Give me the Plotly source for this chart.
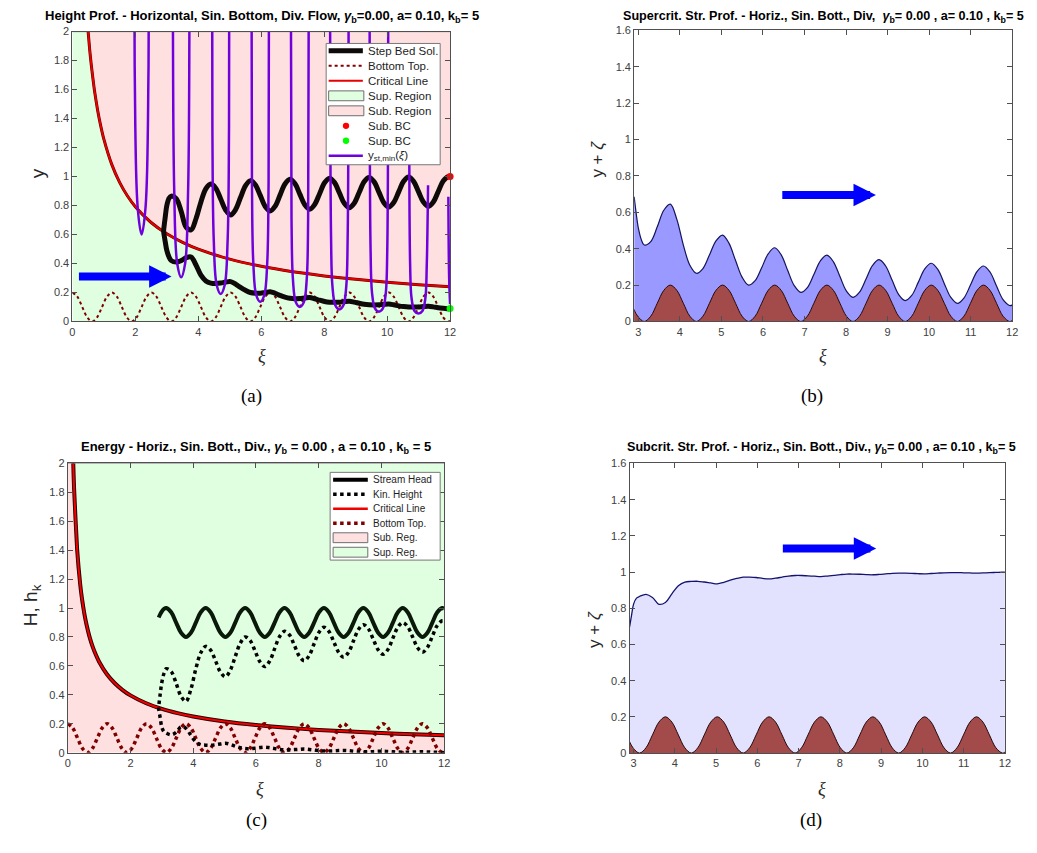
import plotly.graph_objects as go

# ---------------- data ----------------
# bottom topography zeta(xi), sampled every 1/8 of a bed period
xi_bot = [0.000, 0.157, 0.314, 0.471, 0.628, 0.785, 0.942, 1.100, 1.257, 1.414,
          1.571, 1.728, 1.885, 2.042, 2.199, 2.356, 2.513, 2.670, 2.827, 2.985,
          3.142, 3.299, 3.456, 3.613, 3.770, 3.927, 4.084, 4.241, 4.398, 4.555,
          4.712, 4.869, 5.027, 5.184, 5.341, 5.498, 5.655, 5.812, 5.969, 6.126,
          6.283, 6.440, 6.597, 6.754, 6.912, 7.069, 7.226, 7.383, 7.540, 7.697,
          7.854, 8.011, 8.168, 8.325, 8.482, 8.639, 8.796, 8.954, 9.111, 9.268,
          9.425, 9.582, 9.739, 9.896, 10.053, 10.210, 10.367, 10.524, 10.681, 10.838,
          10.996, 11.153, 11.310, 11.467, 11.624, 11.781, 11.938, 12.000]
zeta_bot = [0.2, 0.171, 0.1, 0.029, 0.0, 0.029, 0.1, 0.171,
            0.2, 0.171, 0.1, 0.029, 0.0, 0.029, 0.1, 0.171,
            0.2, 0.171, 0.1, 0.029, 0.0, 0.029, 0.1, 0.171,
            0.2, 0.171, 0.1, 0.029, 0.0, 0.029, 0.1, 0.171,
            0.2, 0.171, 0.1, 0.029, 0.0, 0.029, 0.1, 0.171,
            0.2, 0.171, 0.1, 0.029, 0.0, 0.029, 0.1, 0.171,
            0.2, 0.171, 0.1, 0.029, 0.0, 0.029, 0.1, 0.171,
            0.2, 0.171, 0.1, 0.029, 0.0, 0.029, 0.1, 0.171,
            0.2, 0.171, 0.1, 0.029, 0.0, 0.029, 0.1, 0.171,
            0.2, 0.171, 0.1, 0.029, 0.0, 0.005]

# profile grid (starts at the turning point xi ~ 2.9)
xi_p = [2.90, 2.95, 3.00, 3.07] + xi_bot[20:]
zeta_p = [0.065, 0.042, 0.024, 0.006] + zeta_bot[20:]

# supercritical depth y
y_sup = [0.62, 0.55, 0.49, 0.445,
         0.42, 0.41, 0.42, 0.44, 0.445, 0.39, 0.32, 0.28, 0.265, 0.262,
         0.265, 0.272, 0.275, 0.258, 0.235, 0.215, 0.20, 0.195, 0.195, 0.20,
         0.205, 0.195, 0.18, 0.168, 0.16, 0.157, 0.158, 0.162, 0.165, 0.157,
         0.147, 0.138, 0.133, 0.132, 0.133, 0.137, 0.14, 0.134, 0.126, 0.119,
         0.115, 0.114, 0.115, 0.118, 0.12, 0.115, 0.108, 0.103, 0.10, 0.10,
         0.10, 0.103, 0.105, 0.101, 0.095, 0.091, 0.088, 0.085]
# subcritical depth y
y_sub = [0.63, 0.72, 0.80, 0.85,
         0.865, 0.848, 0.76, 0.651, 0.632, 0.709, 0.825, 0.916, 0.948, 0.92,
         0.845, 0.769, 0.735, 0.772, 0.855, 0.936, 0.972, 0.943, 0.87, 0.794,
         0.762, 0.795, 0.872, 0.949, 0.981, 0.952, 0.879, 0.806, 0.775, 0.807,
         0.882, 0.957, 0.989, 0.96, 0.888, 0.815, 0.785, 0.816, 0.89, 0.964,
         0.994, 0.965, 0.893, 0.82, 0.79, 0.821, 0.894, 0.967, 0.997, 0.968,
         0.896, 0.824, 0.794, 0.824, 0.897, 0.969, 0.999, 0.995]
H_total = 1.0   # total head level

# critical depth y_c(xi)
xi_c = [0.01, 0.02, 0.05, 0.1, 0.15, 0.175, 0.2, 0.3, 0.4, 0.45, 0.5, 0.55, 0.6, 0.7,
        0.8, 0.9, 1.0, 1.25, 1.5, 1.75, 2.0, 2.5, 3.0, 3.5, 4.0, 5.0, 6.0, 7.0,
        8.0, 9.0, 10.0, 11.0, 12.0]
y_c = [27.1, 17.1, 9.27, 5.84, 4.456, 4.02, 3.678, 2.807, 2.317, 2.142, 2.0, 1.874, 1.77, 1.595,
       1.46, 1.35, 1.258, 1.084, 0.96, 0.866, 0.792, 0.683, 0.605, 0.546, 0.499, 0.430, 0.381, 0.344,
       0.3145, 0.291, 0.271, 0.254, 0.240]

# y_st,min branches (one list per branch)
u_x = [
    [1.904, 1.935, 1.979, 2.073, 2.199, 2.325, 2.419, 2.463, 2.494],
    [3.161, 3.192, 3.236, 3.330, 3.456, 3.582, 3.676, 3.720, 3.751],
    [4.417, 4.448, 4.492, 4.586, 4.712, 4.838, 4.932, 4.976, 5.007],
    [5.674, 5.705, 5.749, 5.843, 5.969, 6.095, 6.189, 6.233, 6.264],
    [6.931, 6.962, 7.006, 7.100, 7.226, 7.352, 7.446, 7.490, 7.521],
    [8.187, 8.218, 8.262, 8.356, 8.482, 8.608, 8.702, 8.746, 8.777],
    [9.444, 9.475, 9.519, 9.613, 9.739, 9.865, 9.959, 10.003, 10.034],
    [10.700, 10.731, 10.775, 10.869, 10.995, 11.121, 11.215, 11.259, 11.300],
    [11.945, 11.97, 12.0],
]
u_y = [
    [18.7, 4.24, 1.76, 0.79, 0.60, 0.79, 1.76, 4.24, 18.7],
    [9.5, 2.16, 0.90, 0.40, 0.305, 0.40, 0.90, 2.16, 9.5],
    [5.93, 1.34, 0.56, 0.25, 0.19, 0.25, 0.56, 1.34, 5.93],
    [4.24, 0.96, 0.40, 0.18, 0.136, 0.18, 0.40, 0.96, 4.24],
    [3.12, 0.707, 0.294, 0.132, 0.10, 0.132, 0.294, 0.707, 3.12],
    [2.59, 0.587, 0.244, 0.11, 0.083, 0.11, 0.244, 0.587, 2.59],
    [2.12, 0.481, 0.20, 0.09, 0.068, 0.09, 0.20, 0.481, 2.12],
    [1.72, 0.389, 0.162, 0.073, 0.055, 0.073, 0.162, 0.389, 0.94],
    [0.86, 0.30, 0.12],
]
bc_sub = (12.0, 1.0)
bc_sup = (12.0, 0.09)

# ---------------- derived series ----------------
surf_sup = [y + z for y, z in zip(y_sup, zeta_p)]
surf_sub = [y + z for y, z in zip(y_sub, zeta_p)]
H = [H_total - z for z in zeta_p]
hk_sup = [h - y for h, y in zip(H, y_sup)]
hk_sub = [h - y for h, y in zip(H, y_sub)]
h_c = [v / 2 for v in y_c]
step_x = xi_p[::-1] + xi_p
step_y = y_sub[::-1] + y_sup
hk_y = hk_sub[::-1] + hk_sup
pur_x, pur_y = [], []
for xs, ys in zip(u_x, u_y):
    pur_x += xs + [None]
    pur_y += ys + [None]

# ---------------- styling ----------------
FONT = "Liberation Sans, Arial, sans-serif"
SERIF = "Liberation Serif, DejaVu Serif, serif"
PINK = "rgb(255,224,224)"
GREEN = "rgb(224,255,224)"
DARKRED = "rgb(128,0,0)"
PURPLE = "rgb(112,0,220)"
BROWN = "rgb(163,74,74)"
RED = "rgb(230,0,0)"
GRAYEDGE = "rgb(110,110,110)"

fig = go.Figure()

# ----- panel (a) -----
fig.add_trace(go.Scatter(x=xi_c, y=y_c, mode="lines", fill="tozeroy", fillcolor=GREEN,
                         line=dict(color=GRAYEDGE, width=1), name="Sup. Region", xaxis="x", yaxis="y"))
fig.add_trace(go.Scatter(x=[0, 12], y=[2, 2], mode="lines", fill="tonexty", fillcolor=PINK,
                         line=dict(color=GRAYEDGE, width=1), name="Sub. Region", xaxis="x", yaxis="y"))
fig.add_trace(go.Scatter(x=xi_bot, y=zeta_bot, mode="lines", line=dict(color=DARKRED, width=2, dash="dot", shape="spline"),
                         name="Bottom Top.", xaxis="x", yaxis="y"))
fig.add_trace(go.Scatter(x=xi_c, y=y_c, mode="lines", line=dict(color="rgb(90,0,0)", width=3, shape="spline", smoothing=0.5),
                         hoverinfo="skip", xaxis="x", yaxis="y"))
fig.add_trace(go.Scatter(x=xi_c, y=y_c, mode="lines", line=dict(color=RED, width=2, shape="spline", smoothing=0.5),
                         name="Critical Line", xaxis="x", yaxis="y"))
fig.add_trace(go.Scatter(x=step_x, y=step_y, mode="lines", line=dict(color="rgb(15,10,10)", width=5, shape="spline"),
                         name="Step Bed Sol.", xaxis="x", yaxis="y"))
fig.add_trace(go.Scatter(x=pur_x, y=pur_y, mode="lines", line=dict(color=PURPLE, width=2.5, shape="spline"),
                         connectgaps=False, name="y_st,min(ξ)", xaxis="x", yaxis="y"))
fig.add_trace(go.Scatter(x=[bc_sub[0]], y=[bc_sub[1]], mode="markers", marker=dict(color="red", size=7),
                         cliponaxis=False, name="Sub. BC", xaxis="x", yaxis="y"))
fig.add_trace(go.Scatter(x=[bc_sup[0]], y=[bc_sup[1]], mode="markers", marker=dict(color="rgb(0,255,0)", size=7),
                         cliponaxis=False, name="Sup. BC", xaxis="x", yaxis="y"))

# ----- panel (b) -----
fig.add_trace(go.Scatter(x=xi_p, y=surf_sup, mode="lines", fill="tozeroy", fillcolor="rgb(153,153,255)",
                         line=dict(color="rgb(20,20,90)", width=1.2, shape="spline"), xaxis="x2", yaxis="y2"))
fig.add_trace(go.Scatter(x=xi_bot, y=zeta_bot, mode="lines", fill="tozeroy", fillcolor=BROWN,
                         line=dict(color="rgb(40,10,10)", width=1, shape="spline"), xaxis="x2", yaxis="y2"))

# ----- panel (c) -----
fig.add_trace(go.Scatter(x=xi_c, y=h_c, mode="lines", fill="tozeroy", fillcolor=PINK,
                         line=dict(color=GRAYEDGE, width=1), name="Sub. Reg.", xaxis="x3", yaxis="y3"))
fig.add_trace(go.Scatter(x=[0, 12], y=[2, 2], mode="lines", fill="tonexty", fillcolor=GREEN,
                         line=dict(color=GRAYEDGE, width=1), name="Sup. Reg.", xaxis="x3", yaxis="y3"))
fig.add_trace(go.Scatter(x=xi_c, y=h_c, mode="lines", line=dict(color="rgb(40,0,0)", width=4, shape="spline", smoothing=0.5),
                         hoverinfo="skip", xaxis="x3", yaxis="y3"))
fig.add_trace(go.Scatter(x=xi_c, y=h_c, mode="lines", line=dict(color="rgb(240,0,0)", width=2, shape="spline", smoothing=0.5),
                         name="Critical Line", xaxis="x3", yaxis="y3"))
fig.add_trace(go.Scatter(x=xi_bot, y=zeta_bot, mode="lines", line=dict(color=DARKRED, width=3.5, dash="dot", shape="spline"),
                         name="Bottom Top.", xaxis="x3", yaxis="y3"))
fig.add_trace(go.Scatter(x=step_x, y=hk_y, mode="lines", line=dict(color="black", width=3.5, dash="dot", shape="spline"),
                         name="Kin. Height", xaxis="x3", yaxis="y3"))
fig.add_trace(go.Scatter(x=xi_p, y=H, mode="lines", line=dict(color="rgb(10,25,10)", width=4, shape="spline"),
                         name="Stream Head", xaxis="x3", yaxis="y3"))

# ----- panel (d) -----
fig.add_trace(go.Scatter(x=xi_p, y=surf_sub, mode="lines", fill="tozeroy", fillcolor="rgb(226,226,255)",
                         line=dict(color="rgb(20,20,110)", width=1.3, shape="spline"), xaxis="x4", yaxis="y4"))
fig.add_trace(go.Scatter(x=xi_bot, y=zeta_bot, mode="lines", fill="tozeroy", fillcolor=BROWN,
                         line=dict(color="rgb(40,10,10)", width=1, shape="spline"), xaxis="x4", yaxis="y4"))

W, Hh = 1037, 853
def px(x):
    return x / W
def py(y):
    return 1 - y / Hh

axis_common = dict(showline=True, linecolor="rgb(80,80,80)", linewidth=1, mirror="ticks",
                   ticks="inside", ticklen=5, tickcolor="rgb(80,80,80)", showgrid=False,
                   zeroline=False, tickfont=dict(family=FONT, size=11, color="rgb(64,64,64)"))

fig.update_layout(
    width=W, height=Hh, margin=dict(l=0, r=0, t=0, b=0),
    paper_bgcolor="white", plot_bgcolor="white", showlegend=False,
    xaxis=dict(domain=[px(70), px(451)], range=[0, 12], dtick=2, anchor="y", **axis_common),
    yaxis=dict(domain=[py(320), py(26)], range=[0, 2], dtick=0.2, anchor="x", **axis_common),
    xaxis2=dict(domain=[px(636.7), px(1018)], range=[2.9, 12], dtick=1, anchor="y2", **axis_common),
    yaxis2=dict(domain=[py(320), py(24.6)], range=[0, 1.6], dtick=0.2, anchor="x2", **axis_common),
    xaxis3=dict(domain=[px(65.3), px(445)], range=[0, 12], dtick=2, anchor="y3", **axis_common),
    yaxis3=dict(domain=[py(757.3), py(464)], range=[0, 2], dtick=0.2, anchor="x3", **axis_common),
    xaxis4=dict(domain=[px(632), px(1010.7)], range=[2.9, 12], dtick=1, anchor="y4", **axis_common),
    yaxis4=dict(domain=[py(757.7), py(464)], range=[0, 1.6], dtick=0.2, anchor="x4", **axis_common),
)

ann = []
shapes = []
def text(x, y, t, size, family=FONT, color="black", angle=0, xanchor="center"):
    ann.append(dict(x=px(x), y=py(y), xref="paper", yref="paper", text=t, showarrow=False,
                    xanchor=xanchor, yanchor="middle", textangle=angle,
                    font=dict(family=family, size=size, color=color)))

text(261, 11, "<b>Height Prof. - Horizontal, Sin. Bottom, Div. Flow, <i>γ</i><sub>b</sub>=0.00, a= 0.10, k<sub>b</sub>= 5</b>", 13)
text(828, 11, "<b>Supercrit. Str. Prof. - Horiz., Sin. Bott., Div,  <i>γ</i><sub>b</sub>= 0.00 , a= 0.10 , k<sub>b</sub>= 5</b>", 12.6)
text(255, 448, "<b>Energy - Horiz., Sin. Bott., Div., <i>γ</i><sub>b</sub> = 0.00 , a = 0.10 , k<sub>b</sub> = 5</b>", 13)
text(826, 448, "<b>Subcrit. Str. Prof. - Horiz., Sin. Bott., Div., <i>γ</i><sub>b</sub>= 0.00 , a= 0.10 , k<sub>b</sub>= 5</b>", 12.6)

text(261, 355, "<i>ξ</i>", 18, SERIF, "rgb(40,40,40)")
text(827, 355, "<i>ξ</i>", 18, SERIF, "rgb(40,40,40)")
text(259, 794, "<i>ξ</i>", 18, SERIF, "rgb(40,40,40)")
text(826, 794, "<i>ξ</i>", 18, SERIF, "rgb(40,40,40)")

text(251, 396, "(a)", 19, SERIF)
text(816, 396, "(b)", 19, SERIF)
text(256, 826, "(c)", 19, SERIF)
text(815, 826, "(d)", 19, SERIF)

text(35, 170, "y", 19, FONT, "rgb(40,40,40)", -90)
text(600, 155, "y + <i>ζ</i>", 17, FONT, "rgb(40,40,40)", -90)
text(30, 608, "H, h<sub>k</sub>", 19, FONT, "rgb(40,40,40)", -90)
text(596, 632, "y + <i>ζ</i>", 17, FONT, "rgb(40,40,40)", -90)

# flow-direction arrows
arrow_a = dict(x0=0.16, x1=3.15, y=0.31)
arrow_b = dict(x0=6.43, x1=8.72, y=0.695)
arrow_d = dict(x0=6.58, x1=8.88, y=1.13)
for arr, xr, yr in [(arrow_a, "x", "y"), (arrow_b, "x2", "y2"), (arrow_d, "x4", "y4")]:
    ann.append(dict(x=arr["x1"], y=arr["y"], ax=arr["x0"], ay=arr["y"], xref=xr, yref=yr,
                    axref=xr, ayref=yr, text="", showarrow=True, arrowhead=2, arrowsize=0.56,
                    arrowwidth=8, arrowcolor="rgb(0,0,255)", standoff=0))

# ---------------- legends (drawn as boxes with samples and text) ----------------
def legend_box(x0, x1, y0, y1):
    shapes.append(dict(type="rect", xref="paper", yref="paper", x0=px(x0), x1=px(x1),
                       y0=py(y1), y1=py(y0), fillcolor="white", line=dict(color="rgb(120,120,120)", width=1)))

def leg_line(xa, xb, y, color, width, dash="solid"):
    shapes.append(dict(type="line", xref="paper", yref="paper", x0=px(xa), x1=px(xb), y0=py(y), y1=py(y),
                       line=dict(color=color, width=width, dash=dash)))

def leg_patch(xa, xb, y, h, color):
    shapes.append(dict(type="rect", xref="paper", yref="paper", x0=px(xa), x1=px(xb), y0=py(y + h / 2),
                       y1=py(y - h / 2), fillcolor=color, line=dict(color=GRAYEDGE, width=1)))

def leg_dot(xc, y, r, color):
    shapes.append(dict(type="circle", xref="paper", yref="paper", x0=px(xc - r), x1=px(xc + r),
                       y0=py(y + r), y1=py(y - r), fillcolor=color, line=dict(color=color, width=0)))

# legend of panel (a)
legend_a = [("Step Bed Sol.", "line", "rgb(15,10,10)", 5, "solid"),
            ("Bottom Top.", "line", DARKRED, 2, "dot"),
            ("Critical Line", "line", RED, 2, "solid"),
            ("Sup. Region", "patch", GREEN, 0, ""),
            ("Sub. Region", "patch", PINK, 0, ""),
            ("Sub. BC", "dot", "red", 0, ""),
            ("Sup. BC", "dot", "rgb(0,255,0)", 0, ""),
            ("y<sub>st,min</sub>(<i>ξ</i>)", "line", PURPLE, 2.5, "solid")]
legend_box(326, 441, 38, 161)
for i, (lab, kind, col, wd, ds) in enumerate(legend_a):
    yy = 45.5 + i * 15.2
    if kind == "line":
        leg_line(328.5, 363, yy, col, wd, ds)
    elif kind == "patch":
        leg_patch(328.5, 364, yy, 10, col)
    else:
        leg_dot(346, yy, 3.2, col)
    text(366, yy, lab, 11.5, FONT, "rgb(30,30,30)", xanchor="left")

# legend of panel (c)
legend_c = [("Stream Head", "line", "black", 4, "solid"),
            ("Kin. Height", "line", "black", 3.5, "dot"),
            ("Critical Line", "line", "rgb(240,0,0)", 2.5, "solid"),
            ("Bottom Top.", "line", DARKRED, 3.5, "dot"),
            ("Sub. Reg.", "patch", PINK, 0, ""),
            ("Sup. Reg.", "patch", GREEN, 0, "")]
legend_box(330, 441, 473, 562)
for i, (lab, kind, col, wd, ds) in enumerate(legend_c):
    yy = 480.5 + i * 14.7
    if kind == "line":
        leg_line(333, 368, yy, col, wd, ds)
    else:
        leg_patch(333, 368, yy, 10, col)
    text(371, yy, lab, 10, FONT, "rgb(30,30,30)", xanchor="left")

fig.update_layout(annotations=ann, shapes=shapes)
fig.write_html("out.html")
